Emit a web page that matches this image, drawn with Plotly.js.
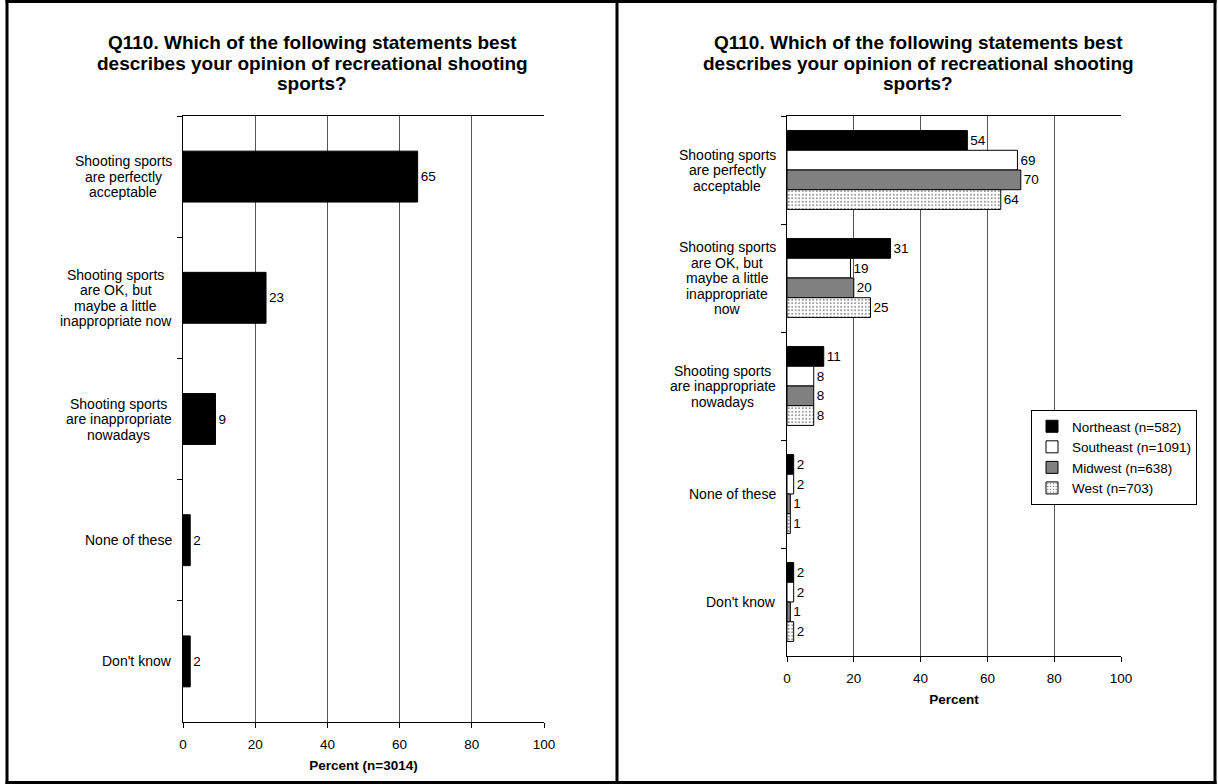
<!DOCTYPE html>
<html>
<head>
<meta charset="utf-8">
<script src="https://cdn.plot.ly/plotly-3.0.1.min.js"></script>
<style>
html,body{margin:0;padding:0;background:#fff;}
#chart{width:1218px;height:784px;}
</style>
</head>
<body>
<div id="chart"></div>
<script>
// ---- Data ----
const titleLines = [
  "Q110. Which of the following statements best",
  "describes your opinion of recreational shooting",
  "sports?"
];

const leftCategories = [
  "Shooting sports<br>are perfectly<br>acceptable",
  "Shooting sports<br>are OK, but<br>maybe a little<br>inappropriate now",
  "Shooting sports<br>are inappropriate<br>nowadays",
  "None of these",
  "Don't know"
];
const leftValues = [65, 23, 9, 2, 2];
const leftAxisTitle = "Percent (n=3014)";

const rightCategories = [
  "Shooting sports<br>are perfectly<br>acceptable",
  "Shooting sports<br>are OK, but<br>maybe a little<br>inappropriate<br>now",
  "Shooting sports<br>are inappropriate<br>nowadays",
  "None of these",
  "Don't know"
];
const seriesNames = ["Northeast (n=582)", "Southeast (n=1091)", "Midwest (n=638)", "West (n=703)"];
const northeast = [54, 31, 11, 2, 2];
const southeast = [69, 19, 8, 2, 2];
const midwest   = [70, 20, 8, 1, 1];
const west      = [64, 25, 8, 1, 2];
const rightAxisTitle = "Percent";

const xTicks = [0, 20, 40, 60, 80, 100];

// ---- Styling ----
const FONT = "Liberation Sans, Arial, Helvetica, sans-serif";
const W = 1218, H = 784;
const px = v => v / W;
const py = v => 1 - v / H;
const LABEL_SIZE = 14, LINE_GAP = 15.5, TICK_SIZE = 13.5, VALUE_SIZE = 13.5;

const seriesStyles = [
  {color: "#000000"},
  {color: "#ffffff"},
  {color: "#808080"},
  {color: "#ffffff", pattern: {shape: ".", fgcolor: "#707070", bgcolor: "#ffffff", size: 3.5, solidity: 0.18}}
];

const traces = [];
traces.push({
  type: "bar", orientation: "h",
  x: leftValues, y: leftCategories,
  xaxis: "x", yaxis: "y",
  width: 0.42,
  marker: {color: "#000000", line: {color: "#000000", width: 1}},
  text: leftValues.map(String), textposition: "outside", cliponaxis: false,
  constraintext: "none",
  textfont: {family: FONT, size: VALUE_SIZE, color: "#000"},
  showlegend: false, hoverinfo: "x+y"
});

const seriesVals = [northeast, southeast, midwest, west];
seriesVals.forEach((vals, i) => {
  const st = seriesStyles[i];
  const marker = {color: st.color, line: {color: "#000000", width: 1}};
  if (st.pattern) marker.pattern = st.pattern;
  traces.push({
    type: "bar", orientation: "h",
    name: seriesNames[i],
    x: vals, y: rightCategories,
    xaxis: "x2", yaxis: "y2",
    marker: marker,
    text: vals.map(String), textposition: "outside", cliponaxis: false,
    constraintext: "none",
    textfont: {family: FONT, size: VALUE_SIZE, color: "#000"},
    hoverinfo: "x+y"
  });
});

function xAxis(domain, anchor, title) {
  return {
    domain: domain, anchor: anchor, range: [0, 100],
    tickvals: xTicks, ticktext: xTicks.map(String),
    ticks: "outside", ticklen: 5, tickcolor: "#000", tickwidth: 1,
    ticklabelstandoff: 5,
    showgrid: true, gridcolor: "#555", gridwidth: 1,
    showline: true, linecolor: "#000", linewidth: 1, mirror: true,
    zeroline: false, fixedrange: true,
    tickfont: {family: FONT, size: TICK_SIZE, color: "#000"},
    title: {text: "<b>" + title + "</b>", font: {family: FONT, size: 13.5, color: "#000"}, standoff: 9}
  };
}
function yAxis(domain, anchor) {
  return {
    domain: domain, anchor: anchor, type: "category",
    autorange: "reversed",
    showticklabels: false,
    ticks: "outside", tickson: "boundaries", ticklen: 5, tickcolor: "#000",
    showgrid: false, showline: true, linecolor: "#000", linewidth: 1, mirror: false,
    zeroline: false, fixedrange: true
  };
}

const annotations = [];
// titles, one annotation per line
[312, 918].forEach(cx => {
  titleLines.forEach((line, i) => {
    annotations.push({
      xref: "paper", yref: "paper", x: px(cx), y: py(42 + 21 * i),
      xanchor: "center", yanchor: "middle", showarrow: false,
      text: "<b>" + line + "</b>",
      font: {family: FONT, size: 19, color: "#000"}
    });
  });
});
// category labels, each line centred, tight line spacing
function addCategoryLabels(cats, xref, yref) {
  cats.forEach(c => {
    const lines = c.split("<br>");
    const n = lines.length;
    lines.forEach((ln, i) => {
      annotations.push({
        xref: xref, yref: yref, x: 0, y: c,
        xanchor: "center", yanchor: "middle",
        xshift: 0, yshift: ((n - 1) / 2 - i) * LINE_GAP,
        showarrow: false, text: ln,
        font: {family: FONT, size: LABEL_SIZE, color: "#000"},
        _group: c
      });
    });
  });
}
addCategoryLabels(leftCategories, "x domain", "y");
addCategoryLabels(rightCategories, "x2 domain", "y2");

// panel borders
const shapes = [
  {x0: px(7), x1: px(7), y0: 0, y1: 1},
  {x0: px(617), x1: px(617), y0: 0, y1: 1},
  {x0: px(1215), x1: px(1215), y0: 0, y1: 1},
  {x0: px(5.5), x1: px(1216.5), y0: py(1.5), y1: py(1.5)},
  {x0: px(5.5), x1: px(1216.5), y0: py(782.5), y1: py(782.5)}
].map(s => Object.assign(s, {type: "line", xref: "paper", yref: "paper", line: {color: "#000", width: 3}, layer: "above"}));

const layout = {
  width: W, height: H,
  margin: {l: 0, r: 0, t: 0, b: 0, pad: 0},
  paper_bgcolor: "#fff", plot_bgcolor: "#fff",
  font: {family: FONT, size: 12, color: "#000"},
  barmode: "group", bargap: 0.27, bargroupgap: 0,
  xaxis: xAxis([px(183), px(544)], "y", leftAxisTitle),
  yaxis: yAxis([py(722), py(116)], "x"),
  xaxis2: xAxis([px(787), px(1121)], "y2", rightAxisTitle),
  yaxis2: yAxis([py(656), py(116)], "x2"),
  showlegend: true,
  legend: {
    x: px(1197), y: py(410), xanchor: "right", yanchor: "top",
    bgcolor: "#fff", bordercolor: "#000", borderwidth: 1,
    font: {family: FONT, size: 13.5, color: "#000"},
    traceorder: "normal", itemwidth: 30, tracegroupgap: 0
  },
  annotations: annotations,
  shapes: shapes
};

Plotly.newPlot("chart", traces, layout, {displayModeBar: false, staticPlot: true}).then(gd => {
  // measure each category's widest line and shift the block so its right edge sits 11px left of the axis
  const anns = gd.layout.annotations;
  const nodes = gd.querySelectorAll(".annotation");
  const widths = {};
  anns.forEach((a, k) => {
    if (!a._group) return;
    const key = a.xref + "|" + a._group;
    const t = nodes[k].querySelector("text");
    const w = t ? t.getBBox().width : 0;
    widths[key] = Math.max(widths[key] || 0, w);
  });
  const upd = {};
  anns.forEach((a, k) => {
    if (!a._group) return;
    const key = a.xref + "|" + a._group;
    upd["annotations[" + k + "].xshift"] = -11 - widths[key] / 2;
  });
  return Plotly.relayout(gd, upd);
});
</script>
</body>
</html>
